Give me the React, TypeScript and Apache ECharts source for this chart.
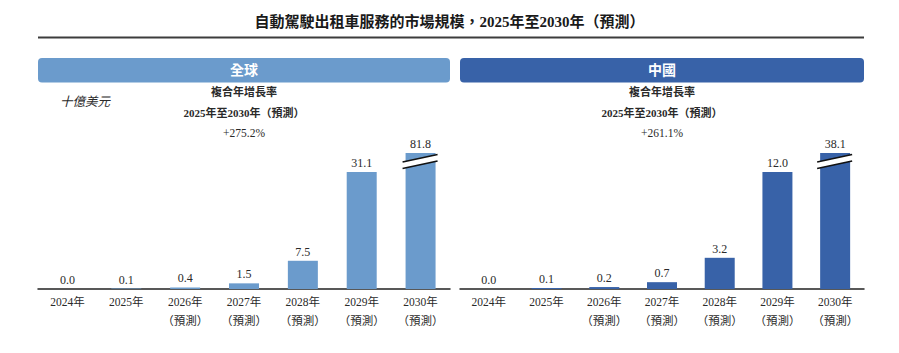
import React, { useEffect, useRef } from "react";
import * as echarts from "echarts";

// Market size of robotaxi services, billions of US dollars
const years = ["2024年", "2025年", "2026年", "2027年", "2028年", "2029年", "2030年"];
const forecast = [false, false, true, true, true, true, true];
const globalValues = [0.0, 0.1, 0.4, 1.5, 7.5, 31.1, 81.8];
const chinaValues = [0.0, 0.1, 0.2, 0.7, 3.2, 12.0, 38.1];
const globalCagr = "+275.2%";
const chinaCagr = "+261.1%";
const panelTitles = ["全球", "中國"];
const chartTitle = "自動駕駛出租車服務的市場規模，2025年至2030年（預測）";
const cagrTitle = "複合年增長率";
const cagrPeriod = "2025年至2030年（預測）";
const unitLabel = "十億美元";
// Visible top of each panel's value axis; taller bars are shown broken
const axisMax = [36.15, 13.95];

const FONT = '"Liberation Serif", "Noto Sans CJK TC", serif';
const LIGHT = "#6b9bcc";
const DARK = "#3862a8";
const TEXT = "#2a2a2a";

const categoryLabels = years.map((y, i) => (forecast[i] ? `${y}\n（預測）` : y));

// Indices of bars whose value runs past the visible axis range
const brokenIndex = (vals: number[], max: number) =>
  vals.map((v, i) => (v > max ? i : -1)).filter((i) => i >= 0);

export default function App() {
  const ref = useRef<HTMLDivElement>(null);

  useEffect(() => {
    document.body.style.margin = "0";
    if (!ref.current) return;
    const chart = echarts.init(ref.current, undefined, { renderer: "svg" });

    const grids = [
      { left: 38, width: 412, top: 153, height: 136 },
      { left: 460, width: 404, top: 153, height: 136 },
    ];
    const colors = [LIGHT, DARK];
    const values = [globalValues, chinaValues];
    const cagrs = [globalCagr, chinaCagr];

    // Break symbol across a bar that is cut off at the top of the grid
    const breakRender = (params: any, api: any) => {
      const cx = api.coord([api.value(0), 0])[0];
      const top = params.coordSys.y;
      const ul: [number, number] = [cx - 18, top + 9];
      const ur: [number, number] = [cx + 17, top + 1.5];
      const ll: [number, number] = [cx - 18, top + 15.5];
      const lr: [number, number] = [cx + 17, top + 8];
      return {
        type: "group",
        children: [
          {
            type: "polygon",
            shape: { points: [ul, ur, lr, ll] },
            style: { fill: "#ffffff" },
          },
          {
            type: "line",
            shape: { x1: ul[0], y1: ul[1], x2: ur[0], y2: ur[1] },
            style: { stroke: "#111", lineWidth: 1.6 },
          },
          {
            type: "line",
            shape: { x1: ll[0], y1: ll[1], x2: lr[0], y2: lr[1] },
            style: { stroke: "#111", lineWidth: 1.6 },
          },
        ],
      };
    };

    const series: any[] = [];
    values.forEach((vals, k) => {
      series.push({
        type: "bar",
        xAxisIndex: k,
        yAxisIndex: k,
        data: vals,
        barWidth: 30,
        clip: true,
        itemStyle: { color: colors[k] },
        label: {
          show: true,
          position: "top",
          distance: 3,
          fontFamily: FONT,
          fontSize: 12,
          color: TEXT,
          formatter: (p: any) => Number(p.value).toFixed(1),
        },
      });
      series.push({
        type: "custom",
        xAxisIndex: k,
        yAxisIndex: k,
        clip: false,
        z: 5,
        data: brokenIndex(vals, axisMax[k]).map((i) => [i, vals[i]]),
        renderItem: breakRender,
      });
    });

    const graphic: any[] = [
      {
        type: "text",
        left: "center",
        top: 14,
        style: {
          text: chartTitle,
          font: `bold 15px ${FONT}`,
          fill: "#1a1a1a",
        },
      },
      {
        type: "line",
        shape: { x1: 38, y1: 37.5, x2: 864, y2: 37.5 },
        style: { stroke: "#3c3c3c", lineWidth: 2 },
      },
      {
        type: "text",
        x: 85,
        y: 102,
        style: {
          text: unitLabel,
          font: `italic 12.5px ${FONT}`,
          fill: TEXT,
          align: "center",
          verticalAlign: "middle",
        },
      },
    ];

    grids.forEach((g, k) => {
      const cx = g.left + g.width / 2;
      graphic.push(
        {
          type: "rect",
          shape: { x: g.left, y: 58, width: g.width, height: 24.5, r: 4 },
          style: { fill: colors[k] },
        },
        {
          type: "text",
          x: cx,
          y: 70.5,
          style: {
            text: panelTitles[k],
            font: `bold 14px ${FONT}`,
            fill: "#ffffff",
            align: "center",
            verticalAlign: "middle",
          },
        },
        {
          type: "text",
          x: cx,
          y: 92,
          style: {
            text: cagrTitle,
            font: `bold 11px ${FONT}`,
            fill: TEXT,
            align: "center",
            verticalAlign: "middle",
          },
        },
        {
          type: "text",
          x: cx,
          y: 113,
          style: {
            text: cagrPeriod,
            font: `bold 11px ${FONT}`,
            fill: TEXT,
            align: "center",
            verticalAlign: "middle",
          },
        },
        {
          type: "text",
          x: cx,
          y: 132.5,
          style: {
            text: cagrs[k],
            font: `11.5px ${FONT}`,
            fill: TEXT,
            align: "center",
            verticalAlign: "middle",
          },
        }
      );
    });

    chart.setOption({
      animation: false,
      backgroundColor: "#ffffff",
      grid: grids,
      xAxis: grids.map((_, k) => ({
        type: "category",
        gridIndex: k,
        data: categoryLabels,
        axisTick: { show: false },
        axisLine: { lineStyle: { color: "#222", width: 1.5 } },
        axisLabel: {
          interval: 0,
          margin: 3,
          fontFamily: FONT,
          fontSize: 11.5,
          lineHeight: 19,
          color: TEXT,
        },
      })),
      yAxis: grids.map((_, k) => ({
        type: "value",
        gridIndex: k,
        min: 0,
        max: axisMax[k],
        show: false,
        splitLine: { show: false },
      })),
      series,
      graphic,
    });

    return () => chart.dispose();
  }, []);

  return <div ref={ref} style={{ width: 899, height: 353 }} />;
}
